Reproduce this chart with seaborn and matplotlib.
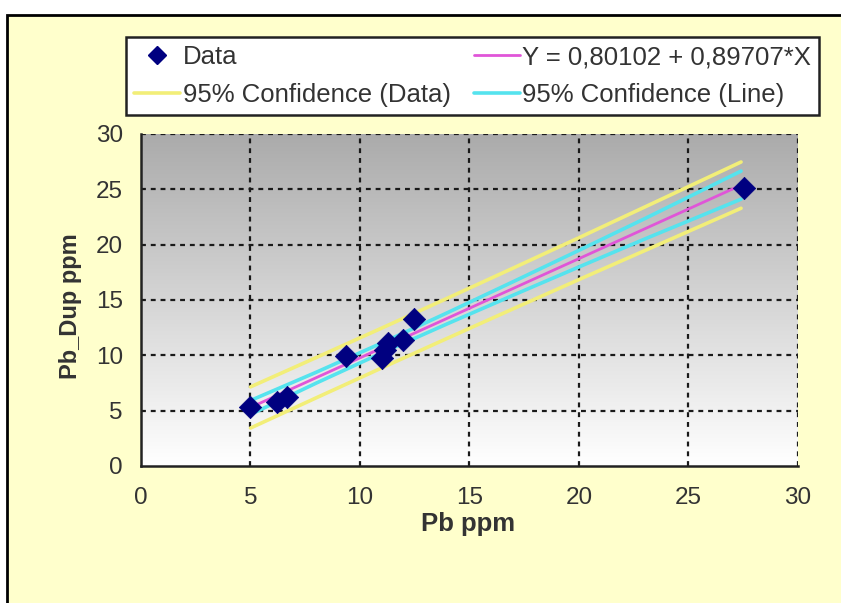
import numpy as np
import pandas as pd
import matplotlib
matplotlib.use("Agg")
import matplotlib.pyplot as plt
import seaborn as sns
from matplotlib.colors import LinearSegmentedColormap
from matplotlib.patches import Rectangle
from matplotlib.lines import Line2D

# ---- data ----
pb = [5.0, 6.2, 6.65, 9.35, 11.0, 11.15, 11.3, 11.95, 12.45, 27.55]
pb_dup = [5.3, 5.8, 6.2, 9.9, 9.75, 10.5, 11.1, 11.4, 13.3, 25.1]

band_x = [5.0, 8.0, 11.0, 14.0, 17.0, 20.0, 23.0, 27.4]
fit_y = [5.29, 7.98, 10.67, 13.36, 16.05, 18.74, 21.43, 25.38]
data_upper = [7.15, 9.80, 12.47, 15.17, 17.89, 20.63, 23.40, 27.47]
data_lower = [3.43, 6.16, 8.87, 11.55, 14.21, 16.85, 19.46, 23.29]
line_upper = [5.92, 8.47, 11.12, 13.86, 16.66, 19.49, 22.35, 26.65]
line_lower = [4.66, 7.49, 10.22, 12.86, 15.44, 17.99, 20.51, 24.11]

ticks = [0, 5, 10, 15, 20, 25, 30]
lbl_data = "Data"
lbl_fit = "Y = 0,80102 + 0,89707*X"
lbl_cd = "95% Confidence (Data)"
lbl_cl = "95% Confidence (Line)"

# ---- styling ----
sns.set_style("white")
plt.rcParams["font.family"] = ["Liberation Sans", "DejaVu Sans"]

W, H = 841, 603
fig = plt.figure(figsize=(W / 100, H / 100), dpi=100, facecolor="white")
fig.add_artist(Rectangle((7 / W, -0.05), 1.2, 1.05 - 15 / H,
                         transform=fig.transFigure, facecolor="#FFFFCC",
                         edgecolor="black", lw=2.0, zorder=-10))

ax = fig.add_axes([141 / W, 1 - 466 / H, (798 - 141) / W, (466 - 134) / H])
ax.set_facecolor("none")

cmap = LinearSegmentedColormap.from_list("g", ["#ffffff", "#ababab"])
grad = np.linspace(0, 1, 256)[:, None]
ax.imshow(grad, extent=[0, 30, 0, 30], origin="lower", aspect="auto",
          cmap=cmap, zorder=0)

YEL = "#F2EE78"
CYA = "#55E3EE"
MAG = "#E055D8"
NAVY = "#000080"

bands = pd.DataFrame({"x": band_x, "fit": fit_y, "du": data_upper, "dl": data_lower,
                      "lu": line_upper, "ll": line_lower})
for col, c in [("du", YEL), ("dl", YEL), ("lu", CYA), ("ll", CYA)]:
    sns.lineplot(data=bands, x="x", y=col, color=c, lw=2.6, ax=ax,
                 estimator=None, sort=False, zorder=3)
sns.lineplot(data=bands, x="x", y="fit", color=MAG, lw=2.0, ax=ax,
             estimator=None, sort=False, zorder=4)

pts = pd.DataFrame({"pb": pb, "dup": pb_dup})
sns.scatterplot(data=pts, x="pb", y="dup", marker="D", s=130, color=NAVY,
                edgecolor=NAVY, linewidth=0.5, ax=ax, zorder=5)

ax.set_xlim(0, 30)
ax.set_ylim(0, 30)
ax.set_xticks(ticks)
ax.set_yticks(ticks)
ax.set_xticklabels([str(t) for t in ticks])
ax.set_yticklabels([str(t) for t in ticks])
for t in ticks[1:]:
    ax.axvline(t, color="#1a1a1a", lw=1.6, ls=(0, (2.2, 2.2)), zorder=1)
    ax.axhline(t, color="#1a1a1a", lw=1.6, ls=(0, (2.2, 2.2)), zorder=1)

for s in ["top", "right"]:
    ax.spines[s].set_visible(False)
for s in ["left", "bottom"]:
    ax.spines[s].set_color("#222222")
    ax.spines[s].set_linewidth(1.8)
    ax.spines[s].set_zorder(6)
ax.tick_params(axis="both", direction="inout", length=8, width=1.6,
               color="#222222", labelsize=17.5, labelcolor="#333333")
ax.tick_params(axis="x", pad=11)
ax.tick_params(axis="y", pad=9)

ax.set_xlabel("")
ax.set_ylabel("")
fig.text(468 / W, 1 - 524 / H, "Pb ppm", ha="center", va="center",
         fontsize=18.5, fontweight="bold", color="#333333")
fig.text(70 / W, 1 - 306 / H, "Pb_Dup ppm", ha="center", va="center",
         rotation=90, fontsize=17, fontweight="bold", color="#333333")

handles = [
    Line2D([], [], marker="D", ls="none", color=NAVY, markersize=9.5),
    Line2D([], [], color=YEL, lw=2.6),
    Line2D([], [], color=MAG, lw=2.0),
    Line2D([], [], color=CYA, lw=2.6),
]
labels = [lbl_data, lbl_cd, lbl_fit, lbl_cl]
leg = fig.legend(handles, labels, ncol=2, mode="expand",
                 bbox_to_anchor=(126 / W, 1 - 115 / H, (819 - 126) / W, (115 - 33) / H),
                 loc="lower left", frameon=True, fancybox=False, fontsize=18.5,
                 handlelength=1.8, handletextpad=0.1, borderaxespad=0,
                 labelspacing=0.55, borderpad=0.3, columnspacing=1.0)
leg.get_frame().set_edgecolor("#222222")
leg.get_frame().set_linewidth(1.8)
leg.get_frame().set_facecolor("white")
leg.get_frame().set_alpha(1)
for t in leg.get_texts():
    t.set_color("#333333")

fig.savefig("out.png", dpi=100, facecolor="white")
